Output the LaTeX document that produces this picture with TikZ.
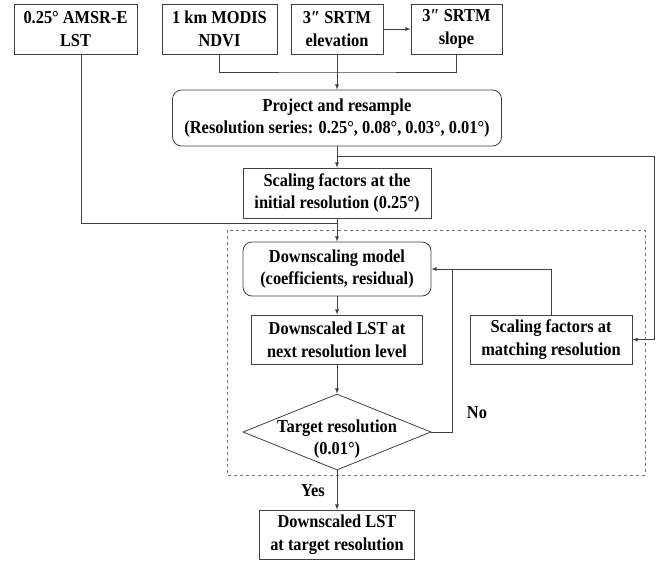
\documentclass[tikz,border=0pt]{standalone}
\usepackage{fontspec}
\setmainfont{Liberation Serif}[FakeStretch=0.9]
\usetikzlibrary{shapes.geometric}

\begin{document}
\begin{tikzpicture}[
        x=1pt, y=-1pt, % координаты в пикселях
        every node/.style = {font=\bfseries\fontsize{18.2}{22.7}\selectfont},
        line/.style = {draw=black!75, line width=0.8pt},
        arr/.style = {line, -latex},
        cell/.style = {rectangle, draw=black!75, line width=0.8pt, align=center, inner sep=0pt}, % Стиль блоков
        rcell/.style = {cell, rounded corners=9pt},
        choice/.style = {diamond, draw=black!75, line width=0.8pt, inner sep=0pt},
        frame/.style = {draw=black!55, dashed, line width=0.8pt},
    ]
    \useasboundingbox (0,0) rectangle (668,563);

    % исходные данные
    \node[cell, minimum width=123pt, minimum height=50pt] (amsr) at (75.5,29) {0.25° AMSR-E\\LST};
    \node[cell, minimum width=115pt, minimum height=50pt] (modis) at (219.5,29) {1 km MODIS\\NDVI};
    \node[cell, minimum width=92pt, minimum height=50pt] (elev) at (337,29) {3″ SRTM\\elevation};
    \node[cell, minimum width=91pt, minimum height=50pt] (slope) at (456.5,29) {3″ SRTM\\slope};

    \node[rcell, minimum width=329pt, minimum height=56pt] (proj) at (337,118) {Project and resample\\(Resolution series: 0.25°, 0.08°, 0.03°, 0.01°)};
    \node[cell, minimum width=188pt, minimum height=50pt] (init) at (337,193) {Scaling factors at the\\initial resolution (0.25°)};

    % цикл
    \draw[frame] (227,230) rectangle (645,475);
    \node[rcell, minimum width=188pt, minimum height=54pt] (model) at (337,269) {Downscaling model\\(coefficients, residual)};
    \node[cell, minimum width=171pt, minimum height=49pt] (next) at (337,339.5) {Downscaled LST at\\next resolution level};
    \node[cell, minimum width=162pt, minimum height=49pt] (match) at (551,339.5) {Scaling factors at\\matching resolution};
    \node[choice, minimum width=188pt, minimum height=76pt,
        label={[align=center, yshift=-7pt]center:Target resolution\\(0.01°)}] (test) at (337,432) {};
    \node[cell, minimum width=155pt, minimum height=49pt] (final) at (337,534.5) {Downscaled LST\\at target resolution};

    \node (no) at (477,413) {No};
    \node (yes) at (313,491) {Yes};

    \coordinate (join) at (337,72);
    \coordinate (fork) at (337,156);
    \coordinate (rim) at (654,156);
    \coordinate (merge) at (337,223);
    \coordinate (back) at (452,269);

    \draw[arr] (elev) -- (slope);
    \draw[line] (modis) |- (join) -| (slope);
    \draw[arr] (elev) -- (proj);
    \draw[arr] (proj) -- (init);
    \draw[arr] (fork) -- (rim) |- (match);
    \draw[line] ([xshift=6pt]amsr.south) |- (merge);
    \draw[arr] (init) -- (model);
    \draw[arr] (model) -- (next);
    \draw[arr] (next) -- (test);
    \draw[arr] (test) -- (final);
    \draw[line] (test) -| (back);
    \draw[arr] (match) |- (model);

\end{tikzpicture}
\end{document}
